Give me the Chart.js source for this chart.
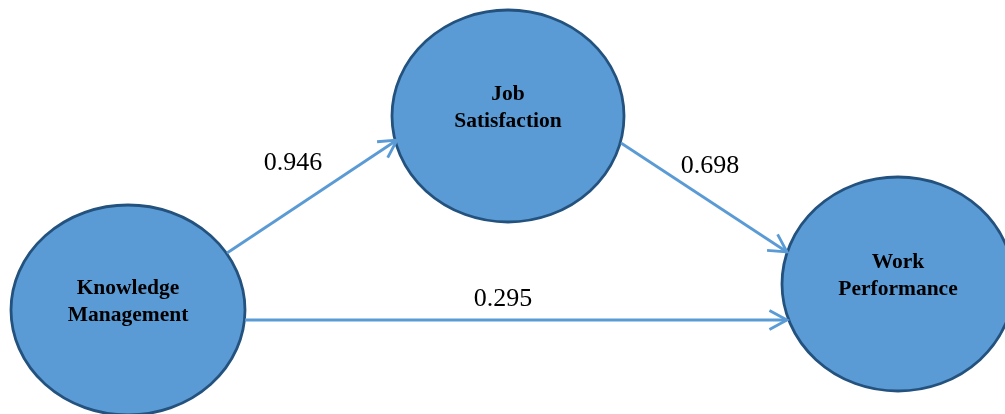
<!DOCTYPE html>
<html>
<head>
<meta charset="utf-8">
<script src="https://cdn.jsdelivr.net/npm/chart.js@4"></script>
<style>
  html, body { margin: 0; padding: 0; background: #ffffff; }
  #wrap { width: 1005px; height: 414px; position: relative; }
</style>
</head>
<body>
<div id="wrap"><canvas id="c"></canvas></div>
<script>
// ---- data ----
const nodeLabels = [["Knowledge", "Management"], ["Job", "Satisfaction"], ["Work", "Performance"]];
const pathFrom = [0, 1, 0];
const pathTo = [1, 2, 2];
const pathCoefficients = ["0.946", "0.698", "0.295"];

// ---- layout (diagram units, separate from the data) ----
const layout = {
  nodes: [
    { x: 128, y: 310, rx: 117, ry: 105 },
    { x: 508, y: 116, rx: 116, ry: 106 },
    { x: 898, y: 284, rx: 116, ry: 107 }
  ],
  edges: [
    { sx: 227, sy: 253, ex: 397, ey: 140, lx: 293, ly: 170 },
    { sx: 621, sy: 143, ex: 787, ey: 252, lx: 710, ly: 173 },
    { sx: 245, sy: 320, ex: 787, ey: 320, lx: 503, ly: 306 }
  ]
};

const fillColor = "#5B9BD5";
const borderColor = "#24527E";
const arrowColor = "#5B9BD5";

const datasets = pathCoefficients.map((c, i) => {
  const e = layout.edges[i];
  return {
    label: nodeLabels[pathFrom[i]].join(" ") + " → " + nodeLabels[pathTo[i]].join(" ") + " (" + c + ")",
    data: [{ x: e.sx, y: e.sy }, { x: e.ex, y: e.ey }],
    showLine: true,
    borderColor: arrowColor,
    borderWidth: 2.8,
    pointRadius: 0,
    fill: false
  };
});

const diagramPlugin = {
  id: "diagram",
  beforeDatasetsDraw(chart) {
    const ctx = chart.ctx;
    const xs = chart.scales.x, ys = chart.scales.y;
    ctx.save();
    layout.nodes.forEach((n) => {
      const cx = xs.getPixelForValue(n.x), cy = ys.getPixelForValue(n.y);
      const rx = Math.abs(xs.getPixelForValue(n.x + n.rx) - cx);
      const ry = Math.abs(ys.getPixelForValue(n.y + n.ry) - cy);
      ctx.beginPath();
      ctx.ellipse(cx, cy, rx, ry, 0, 0, Math.PI * 2);
      ctx.fillStyle = fillColor;
      ctx.fill();
      ctx.lineWidth = 2.8;
      ctx.strokeStyle = borderColor;
      ctx.stroke();
    });
    ctx.restore();
  },
  afterDatasetsDraw(chart) {
    const ctx = chart.ctx;
    const xs = chart.scales.x, ys = chart.scales.y;
    ctx.save();
    // arrowheads
    chart.data.datasets.forEach((ds) => {
      const p0 = ds.data[0], p1 = ds.data[1];
      const x0 = xs.getPixelForValue(p0.x), y0 = ys.getPixelForValue(p0.y);
      const x1 = xs.getPixelForValue(p1.x), y1 = ys.getPixelForValue(p1.y);
      const ang = Math.atan2(y1 - y0, x1 - x0);
      const len = 20, half = 0.5;
      ctx.beginPath();
      ctx.moveTo(x1 - len * Math.cos(ang - half), y1 - len * Math.sin(ang - half));
      ctx.lineTo(x1, y1);
      ctx.lineTo(x1 - len * Math.cos(ang + half), y1 - len * Math.sin(ang + half));
      ctx.strokeStyle = arrowColor;
      ctx.lineWidth = 2.8;
      ctx.lineJoin = "miter";
      ctx.stroke();
    });
    // coefficient labels
    ctx.fillStyle = "#000000";
    ctx.font = "26px 'Liberation Serif', 'Times New Roman', serif";
    ctx.textAlign = "center";
    ctx.textBaseline = "alphabetic";
    pathCoefficients.forEach((c, i) => {
      const e = layout.edges[i];
      ctx.fillText(c, xs.getPixelForValue(e.lx), ys.getPixelForValue(e.ly));
    });
    // node labels
    ctx.font = "bold 21.5px 'Liberation Serif', 'Times New Roman', serif";
    nodeLabels.forEach((lines, i) => {
      const n = layout.nodes[i];
      const cx = xs.getPixelForValue(n.x);
      const baseY = n.y - 16;
      lines.forEach((t, k) => {
        ctx.fillText(t, cx, ys.getPixelForValue(baseY + k * 27));
      });
    });
    ctx.restore();
  }
};

new Chart(document.getElementById("c"), {
  type: "scatter",
  data: { datasets },
  options: {
    responsive: true,
    maintainAspectRatio: false,
    animation: false,
    layout: { padding: 0 },
    plugins: { legend: { display: false }, tooltip: { enabled: false } },
    scales: {
      x: { type: "linear", min: 0, max: 1005, display: false },
      y: { type: "linear", min: 0, max: 414, reverse: true, display: false }
    }
  },
  plugins: [diagramPlugin]
});
</script>
</body>
</html>
